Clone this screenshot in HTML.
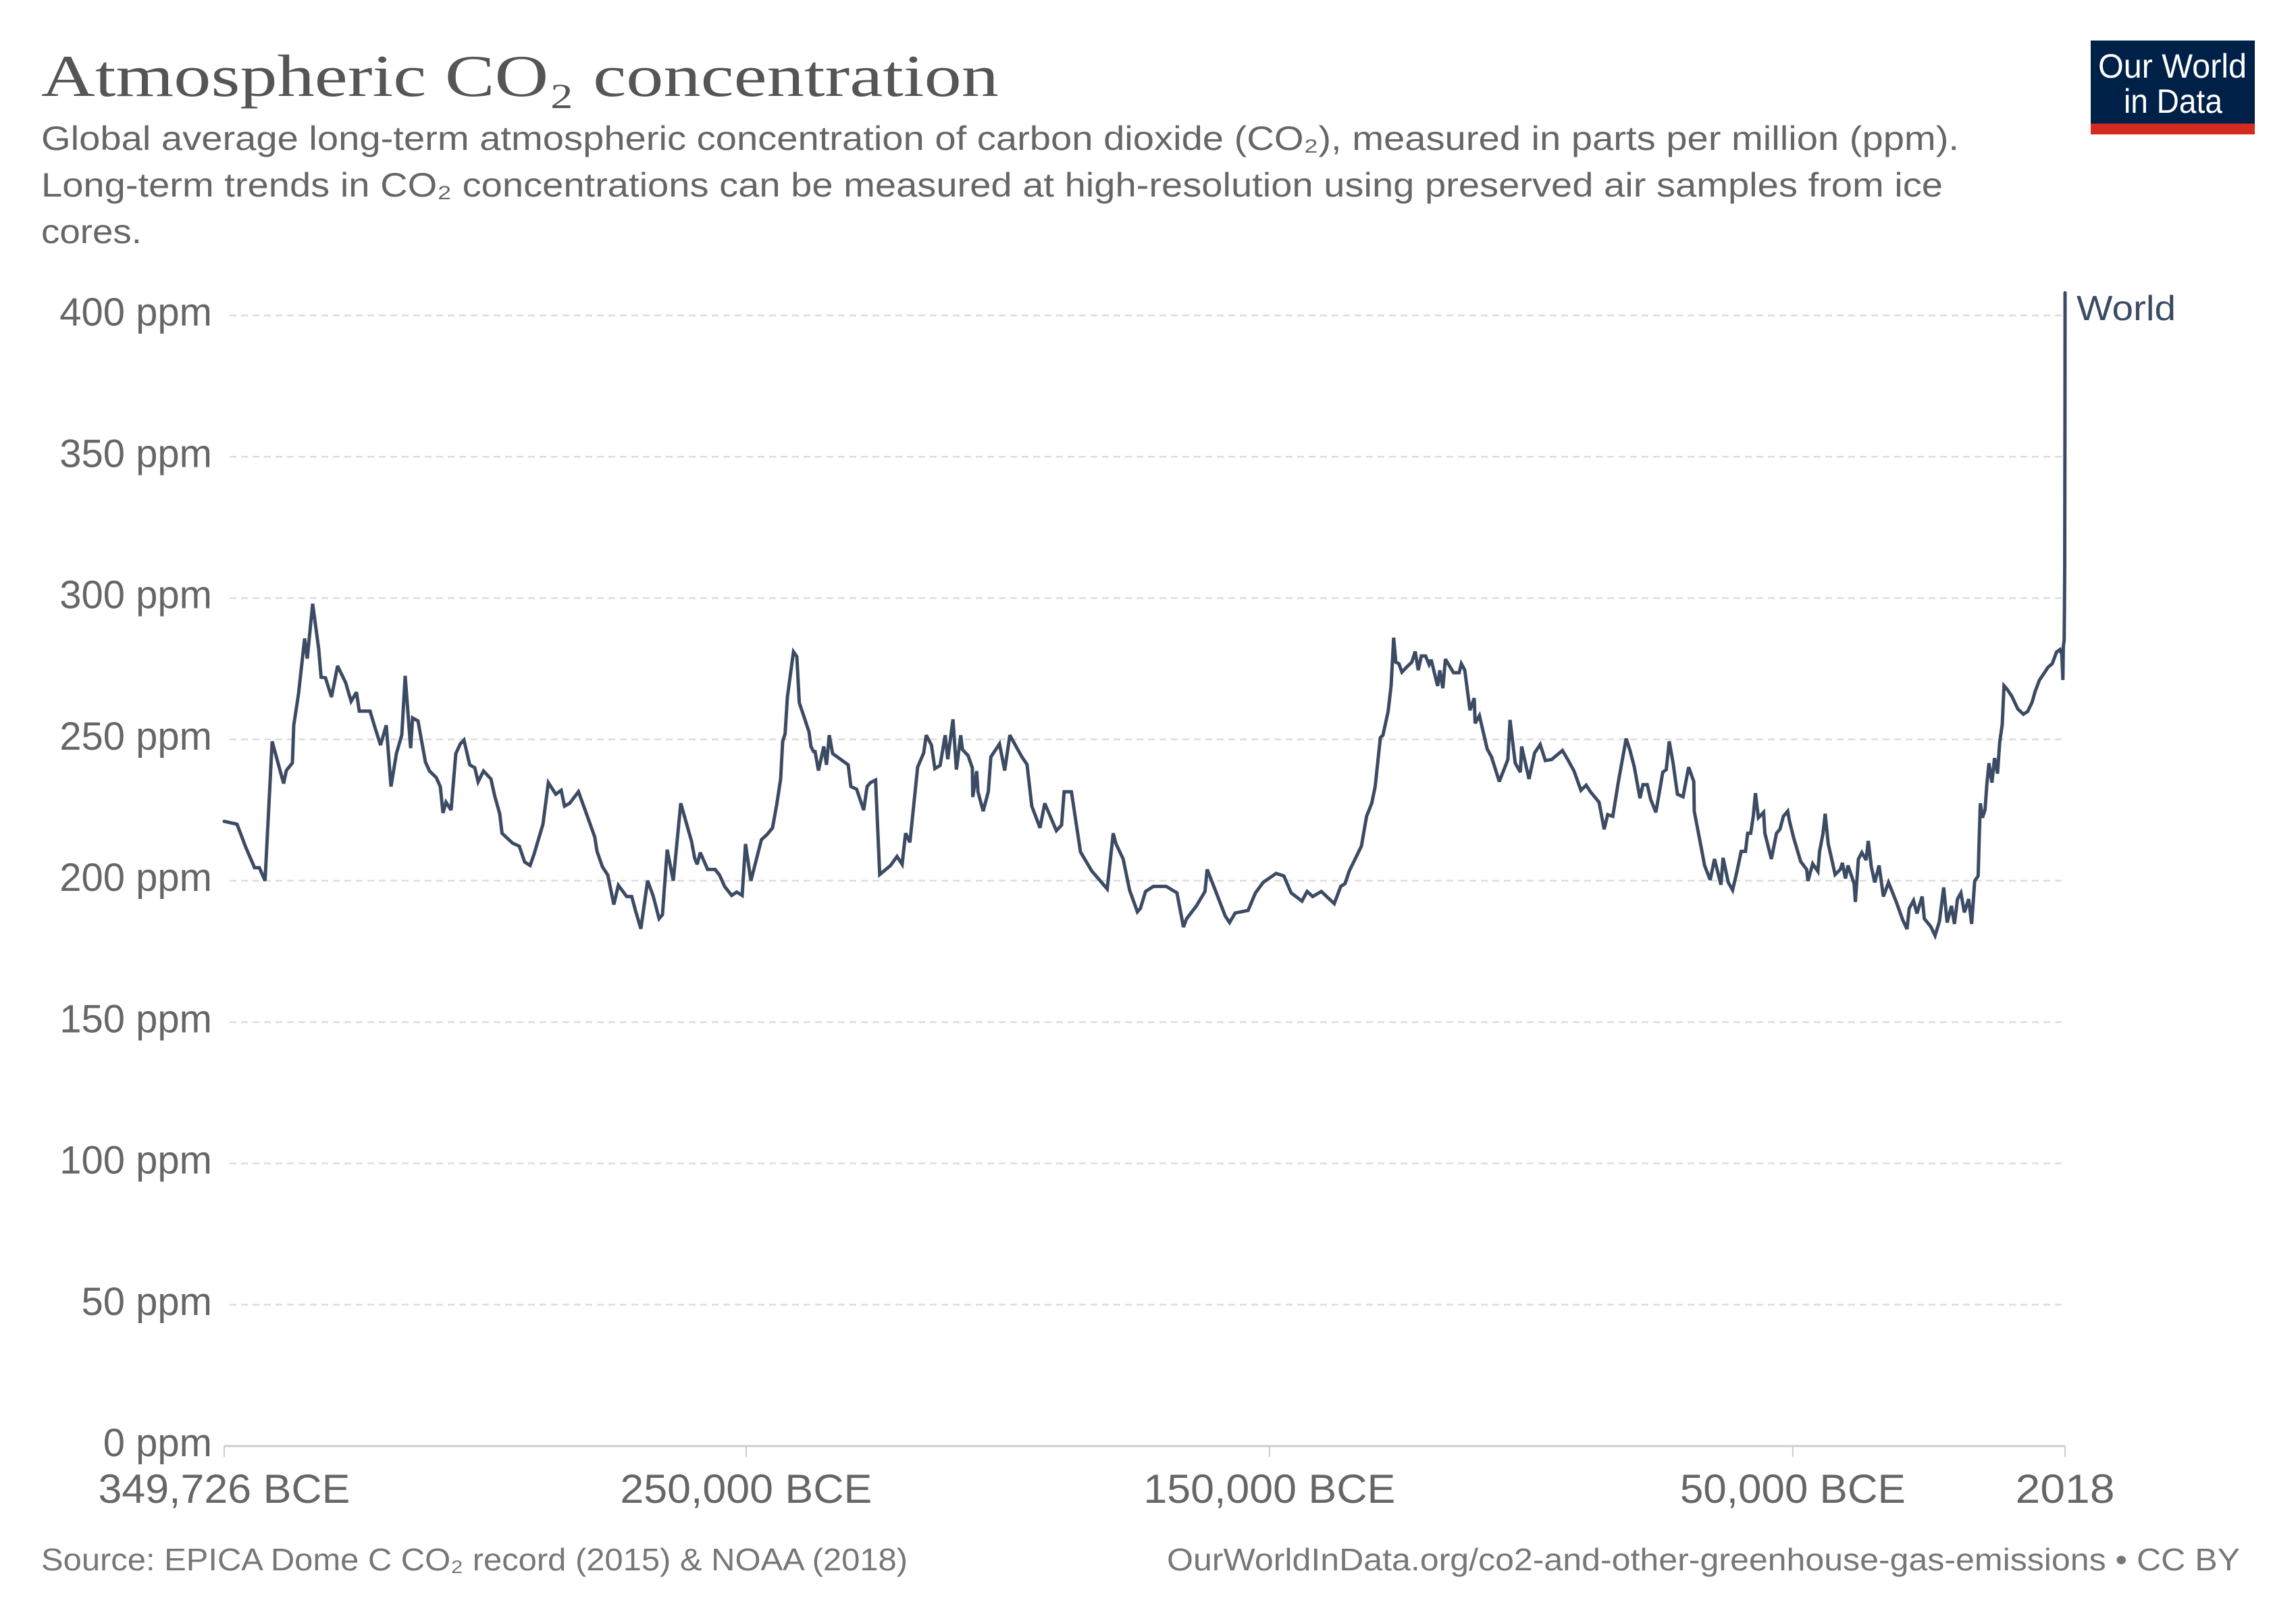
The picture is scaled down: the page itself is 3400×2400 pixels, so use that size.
<!DOCTYPE html>
<html><head><meta charset="utf-8"><title>Atmospheric CO2 concentration</title>
<style>html,body{margin:0;padding:0;background:#fff}svg{display:block}</style></head>
<body>
<svg id="chart" width="3400" height="2400" viewBox="0 0 3400 2400" xmlns="http://www.w3.org/2000/svg" font-family="'Liberation Sans', sans-serif">
<rect x="0" y="0" width="3400" height="2400" fill="#ffffff"/>
<text x="61" y="142" font-family="'Liberation Serif', serif" font-size="88" fill="#555" textLength="1418" lengthAdjust="spacingAndGlyphs">Atmospheric CO₂ concentration</text>
<g fill="#666" font-size="50">
<text x="61" y="222" textLength="2840" lengthAdjust="spacingAndGlyphs">Global average long-term atmospheric concentration of carbon dioxide (CO₂), measured in parts per million (ppm).</text>
<text x="61" y="291" textLength="2816" lengthAdjust="spacingAndGlyphs">Long-term trends in CO₂ concentrations can be measured at high-resolution using preserved air samples from ice</text>
<text x="61" y="360" textLength="149" lengthAdjust="spacingAndGlyphs">cores.</text>
</g>
<g>
<rect x="3096" y="60" width="243" height="139" fill="#002147"/>
<rect x="3096" y="183" width="243" height="16" fill="#d42b21"/>
<text x="3217" y="115" text-anchor="middle" font-size="50" fill="#fff" textLength="220" lengthAdjust="spacingAndGlyphs">Our World</text>
<text x="3218" y="167" text-anchor="middle" font-size="50" fill="#fff" textLength="146" lengthAdjust="spacingAndGlyphs">in Data</text>
</g>
<g id="grid"></g>
<g id="yaxis"></g>
<g id="xaxis"></g>
<g id="series"></g>
<text x="3075" y="474" font-size="52" fill="#3c4b64" textLength="147" lengthAdjust="spacingAndGlyphs">World</text>
<text x="61" y="2325" font-size="46" fill="#777" textLength="1283" lengthAdjust="spacingAndGlyphs">Source: EPICA Dome C CO₂ record (2015) &amp; NOAA (2018)</text>
<text x="3317" y="2325" text-anchor="end" font-size="46" fill="#777" textLength="1589" lengthAdjust="spacingAndGlyphs">OurWorldInData.org/co2-and-other-greenhouse-gas-emissions • CC BY</text>
</svg>
<script>
const years = [-349726,-347274,-345600,-343915,-343008,-341918,-340566,-338367,-337852,-336692,-336430,-335532,-334362,-333857,-332818,-331658,-331214,-330377,-329217,-328057,-326503,-325857,-325474,-324445,-323920,-321852,-320954,-319855,-318755,-317857,-316818,-315789,-315144,-314104,-313721,-312692,-311270,-310493,-309212,-308435,-307920,-307335,-306367,-305469,-304621,-303915,-302806,-301857,-301212,-300183,-298760,-298034,-297075,-296641,-294624,-293343,-292303,-291274,-290497,-288823,-287784,-286372,-285343,-284697,-283708,-282034,-280561,-278926,-278493,-277464,-276435,-275274,-274407,-272823,-271854,-271138,-270109,-268818,-267789,-266629,-265983,-265075,-263915,-262492,-260434,-259829,-259345,-258760,-257347,-255925,-255077,-254109,-252757,-251789,-250760,-250114,-249085,-247077,-245988,-244949,-244111,-243405,-243012,-242548,-242114,-240954,-240308,-239844,-237988,-237604,-237120,-236828,-236182,-235153,-234638,-234114,-233468,-230502,-229988,-228888,-227536,-226891,-226245,-225266,
-224469,-222411,-221176,-220188,-219529,-218706,-217224,-216072,-215578,-214590,-213932,-212944,-211955,-211462,-210474,-209816,-208992,-208663,-207593,-206770,-206688,-205947,-205700,-204712,-203724,-203230,-201584,-200596,-199607,-197303,-196315,-195409,-193845,-192940,-190717,-189729,-189235,-187836,-186107,-183967,-181004,-179851,-179357,-177958,-176723,-175241,-174665,-173677,-172195,-169726,-167668,-166433,-165857,-163963,-162317,-161905,-160259,-158448,-157625,-156555,-154085,-152686,-151204,-148734,-147252,-145853,-143795,-142807,-141737,-140091,-137621,-136386,-135563,-134740,-132435,-131447,-130459,-129801,-128813,-128319,-127331,-126755,-126261,-125849,-125273,-124697,-123627,-122803,-122145,-121569,-120992,-120169,-119511,-119099,-117864,-117453,-116876,-116382,-114818,-113748,-113337,-112678,-111690,-110867,-110702,-109879,-108397,-107574,-106092,-104446,-104034,-103047,-102059,-101812,-100412,-99342,-98272,-97284,
-96084,-94026,-92956,-91803,-90486,-89498,-88675,-87029,-86041,-85382,-84394,-83324,-81842,-81102,-80278,-79208,-78632,-77809,-77150,-76162,-74845,-74187,-73610,-72870,-72046,-70976,-69906,-68918,-68836,-67272,-66860,-65790,-64967,-63732,-63320,-62333,-61509,-60686,-59863,-59040,-58628,-58052,-57558,-57146,-56570,-55582,-55335,-54101,-53113,-52454,-51796,-50972,-50643,-49820,-48503,-47350,-47103,-46198,-45210,-44881,-44222,-43811,-43234,-42576,-41917,-40929,-40518,-39942,-39448,-38295,-38048,-37472,-36813,-35990,-35579,-35002,-34344,-33521,-32697,-31710,-30228,-28993,-28170,-27758,-26935,-26276,-25289,-24877,-23642,-22819,-21996,-21173,-20514,-19691,-19115,-18538,-17880,-17221,-16398,-15822,-15246,-14587,-14422,-14175,-13764,-13270,-12941,-12529,-11953,-11459,-10883,-10471,-9977,-9648,-8989,-8166,-7014,-5943,-5120,-4297,-3721,-2898,-2074,-1251,-428,395,1054,1400,1600,1700,1850,1900,1950,1980,2000,2018];
const ppm = [221,220,211.8,204.6,204.6,200,249.3,234.4,239,241.7,255,266,285.7,278.6,298,281.9,272,271.8,265,276,270,265.8,263.5,266.7,260,260,254.4,248,255,233.3,245,251.6,272.5,246.9,257.6,256.5,242,238.8,236.5,233.3,224,227.8,225,245,248.4,249.8,241,240,235,238.8,236,230,223.7,216.8,213.3,212.2,206.6,205.4,209.5,220,234.7,230.6,232,226.4,227.4,231.5,224,215.5,210.4,205,202,191.6,198.4,194.4,194.4,189.4,183,200,194.8,186.6,188,211,200,227.4,214,208,205.8,210,204,204,202,198,194.8,196,194.8,213,200,214.5,216.4,218.7,227.4,236,249.3,252,265,281,279.3,263,252.7,247.5,245.7,245.7,239,247.5,241,251.5,245,241,233.3,232.4,225,233.3,234.7,235.6,
202.2,205.4,208.6,205.8,216.8,213.6,240.2,245.2,251.5,248,239.7,240.8,251.5,243,257.1,239.3,251.5,246.4,244.3,239.9,229.6,238.8,231.5,224.6,231.5,243.8,248.4,239,251.5,243.8,241.1,226.4,218.7,227.4,217.7,219.7,231.5,231.5,210.2,203.5,197.1,216.8,213.2,207.7,196.6,189,190.2,196.2,198,198,195.7,183.6,186.5,191.1,196.2,204,196.2,187.5,185.2,188.6,189.5,195.7,199.4,202.6,201.7,195.7,192.8,196.2,194.4,196.2,191.9,198,199,203.5,212.2,222.8,227.4,233.3,250.6,251.5,259.9,269,286,277.3,276.8,273.8,275.9,277.3,281.1,274.5,279.5,279.5,276.5,278.2,268.9,274.4,268.1,278.4,273.6,273.6,276.8,274.5,260.3,264.6,255.7,258.4,246.6,243.8,235.1,242.9,256.9,241.6,238.4,247.5,236,245.2,248.2,242.5,
242.9,246.1,242.7,238.8,232,233.8,231.5,227.8,218.2,223.4,222.8,235.1,250.3,246.1,240.2,229.2,234,234,228.7,224.2,238.4,239.3,249.3,241.6,230.6,229.7,240.2,235.1,224.6,209.5,205.4,200.3,207.7,198.6,208.1,199.4,196.7,203.1,210.4,210.4,216.8,216.8,222.8,231,222.3,224.2,216.8,207.7,216.8,218.2,222.8,224.6,221.2,215,206.8,204,199.9,206,203.3,210.4,216.8,223.7,213.1,207.7,202.2,204,206.3,200.8,205.4,199,192.5,207.7,210,207.3,214.1,205,199.4,205.4,194.4,199.4,192.5,186.1,182.9,190.2,193,188.4,194.4,186.6,183.8,180.6,185.6,197.6,185.2,191.1,184.7,193.5,195.7,188.8,193.5,184.7,199.9,201.7,212.7,227.4,222.3,225.1,233.8,241.6,234.7,243.4,237.9,248.9,255.3,269,267.6,265.3,260.8,258.9,259.9,263.1,266.8,270.9,273.2,275.5,276.8,280.9,281.8,280,271,283,285,296,311,339,370,408];
const yTicks = [0,50,100,150,200,250,300,350,400];
const yTickLabels = ["0 ppm","50 ppm","100 ppm","150 ppm","200 ppm","250 ppm","300 ppm","350 ppm","400 ppm"];
const xTicks = [-349726,-250000,-150000,-50000,2018];
const xTickLabels = ["349,726 BCE","250,000 BCE","150,000 BCE","50,000 BCE","2018"];

const NS = "http://www.w3.org/2000/svg";
const X0 = 332, X1 = 3058, Y0 = 2141, Y1 = 467;
const xMin = -349726, xMax = 2018, yMin = 0, yMax = 400;
function xScale(v){ return X0 + (v - xMin) / (xMax - xMin) * (X1 - X0); }
function yScale(v){ return Y0 - (v - yMin) / (yMax - yMin) * (Y0 - Y1); }
function mk(tag, attrs){ const e = document.createElementNS(NS, tag); for (const k in attrs) e.setAttribute(k, attrs[k]); return e; }

const grid = document.getElementById('grid');
const yaxis = document.getElementById('yaxis');
yTicks.forEach((t, i) => {
  const y = yScale(t);
  let line;
  if (t === 0) {
    line = mk('line', {x1: X0, x2: X1, y1: y, y2: y, stroke: '#cccccc', 'stroke-width': 3});
    
  } else {
    line = mk('line', {x1: X0 + 8, x2: X1, y1: y, y2: y, stroke: '#dddddd', 'stroke-width': 2.5, 'stroke-dasharray': '10,7'});
    
  }
  
  grid.appendChild(line);
  const lab = mk('text', {x: 314, y: y + 15, 'text-anchor': 'end', 'font-size': 58, fill: '#666'});
  
  
  lab.textContent = yTickLabels[i];
  yaxis.appendChild(lab);
});

const xaxis = document.getElementById('xaxis');
const xLens = [373, 373, 373, 334, 147];
xTicks.forEach((t, i) => {
  const x = xScale(t);
  const tk = mk('line', {x1: x, x2: x, y1: Y0, y2: Y0 + 16, stroke: '#cccccc', 'stroke-width': 2});
  
  
  xaxis.appendChild(tk);
  const lab = mk('text', {x: x, y: 2225, 'text-anchor': 'middle', 'font-size': 60, fill: '#666', textLength: xLens[i], lengthAdjust: 'spacingAndGlyphs'});
  
  
  lab.textContent = xTickLabels[i];
  xaxis.appendChild(lab);
});

const series = document.getElementById('series');
let d = '';
for (let i = 0; i < years.length; i++) {
  d += (i ? 'L' : 'M') + xScale(years[i]).toFixed(1) + ',' + yScale(ppm[i]).toFixed(1);
}
const path = mk('path', {d: d, fill: 'none', stroke: '#3c4b64', 'stroke-width': 5, 'stroke-linejoin': 'miter', 'stroke-miterlimit': 3, 'stroke-linecap': 'round'});


series.appendChild(path);
</script>
</body></html>
